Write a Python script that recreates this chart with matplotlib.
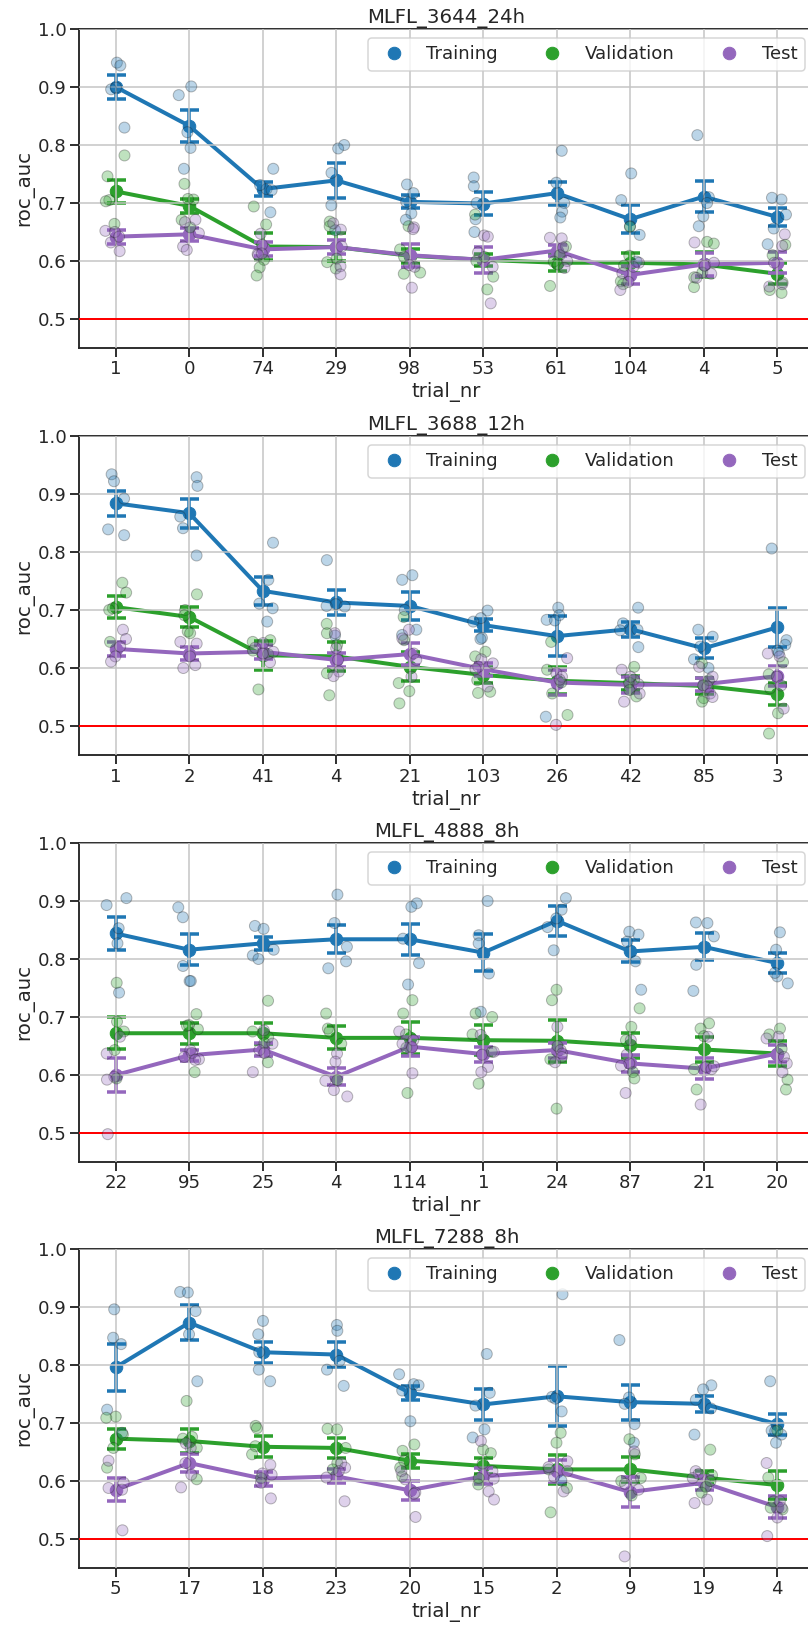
import numpy as np
import pandas as pd
import matplotlib
matplotlib.use("Agg")
import matplotlib.pyplot as plt
import seaborn as sns
from matplotlib.lines import Line2D

sns.set_theme(context="talk", style="ticks", font_scale=1.1)
plt.rcParams["font.family"] = ["DejaVu Sans"]

SETS = ["Training", "Validation", "Test"]
COLORS = ["#1f77b4", "#2ca02c", "#9467bd"]

# ---------------- MLFL_3644_24h ----------------
trials_3644 = ["1", "0", "74", "29", "98", "53", "61", "104", "4", "5"]
train_mean_3644 = [0.900, 0.833, 0.724, 0.739, 0.702, 0.699, 0.717, 0.672, 0.711, 0.676]
train_err_3644 = [0.020, 0.028, 0.012, 0.030, 0.011, 0.020, 0.020, 0.024, 0.027, 0.016]
val_mean_3644 = [0.720, 0.695, 0.625, 0.624, 0.609, 0.602, 0.597, 0.597, 0.594, 0.578]
val_err_3644 = [0.020, 0.012, 0.023, 0.024, 0.012, 0.010, 0.015, 0.017, 0.021, 0.018]
test_mean_3644 = [0.642, 0.646, 0.620, 0.624, 0.610, 0.602, 0.618, 0.576, 0.594, 0.597]
test_err_3644 = [0.012, 0.011, 0.012, 0.012, 0.020, 0.022, 0.010, 0.015, 0.019, 0.018]
train_pts_3644 = [[0.942, 0.937, 0.896, 0.899, 0.830], [0.901, 0.886, 0.795, 0.759, 0.822],
                  [0.759, 0.724, 0.722, 0.684, 0.731], [0.800, 0.794, 0.752, 0.696, 0.653],
                  [0.732, 0.717, 0.702, 0.682, 0.671], [0.744, 0.729, 0.700, 0.672, 0.650],
                  [0.790, 0.735, 0.700, 0.685, 0.675], [0.751, 0.705, 0.660, 0.645, 0.599],
                  [0.817, 0.710, 0.700, 0.677, 0.660], [0.709, 0.706, 0.680, 0.656, 0.629]]
val_pts_3644 = [[0.782, 0.746, 0.705, 0.703, 0.664], [0.733, 0.706, 0.707, 0.671, 0.658],
                [0.694, 0.663, 0.602, 0.589, 0.575], [0.668, 0.660, 0.604, 0.598, 0.587],
                [0.660, 0.620, 0.607, 0.580, 0.578], [0.680, 0.607, 0.600, 0.573, 0.551],
                [0.625, 0.610, 0.599, 0.594, 0.557], [0.659, 0.609, 0.592, 0.560, 0.565],
                [0.633, 0.630, 0.580, 0.572, 0.555], [0.628, 0.610, 0.563, 0.550, 0.545]]
test_pts_3644 = [[0.652, 0.650, 0.642, 0.632, 0.617], [0.671, 0.667, 0.625, 0.619, 0.648],
                 [0.647, 0.628, 0.612, 0.610, 0.613], [0.665, 0.654, 0.625, 0.591, 0.577],
                 [0.658, 0.655, 0.590, 0.593, 0.554], [0.644, 0.642, 0.615, 0.590, 0.527],
                 [0.640, 0.639, 0.623, 0.600, 0.588], [0.597, 0.590, 0.579, 0.564, 0.550],
                 [0.632, 0.597, 0.592, 0.578, 0.571], [0.646, 0.626, 0.597, 0.560, 0.556]]

# ---------------- MLFL_3688_12h ----------------
trials_3688 = ["1", "2", "41", "4", "21", "103", "26", "42", "85", "3"]
train_mean_3688 = [0.884, 0.867, 0.733, 0.713, 0.707, 0.674, 0.655, 0.667, 0.634, 0.670]
train_err_3688 = [0.022, 0.025, 0.024, 0.021, 0.024, 0.010, 0.035, 0.013, 0.017, 0.034]
val_mean_3688 = [0.705, 0.688, 0.622, 0.620, 0.602, 0.588, 0.578, 0.574, 0.569, 0.555]
val_err_3688 = [0.019, 0.017, 0.025, 0.025, 0.025, 0.014, 0.023, 0.012, 0.013, 0.019]
test_mean_3688 = [0.633, 0.625, 0.628, 0.614, 0.624, 0.598, 0.575, 0.571, 0.572, 0.586]
test_err_3688 = [0.012, 0.012, 0.012, 0.012, 0.019, 0.011, 0.022, 0.014, 0.011, 0.017]
train_pts_3688 = [[0.934, 0.922, 0.892, 0.839, 0.829], [0.929, 0.914, 0.861, 0.841, 0.794],
                  [0.816, 0.752, 0.711, 0.703, 0.680], [0.786, 0.710, 0.707, 0.706, 0.656],
                  [0.760, 0.752, 0.700, 0.666, 0.657], [0.699, 0.686, 0.680, 0.652, 0.650],
                  [0.704, 0.691, 0.683, 0.682, 0.516], [0.704, 0.677, 0.666, 0.665, 0.636],
                  [0.666, 0.654, 0.637, 0.615, 0.600], [0.806, 0.648, 0.640, 0.630, 0.626]]
val_pts_3688 = [[0.747, 0.730, 0.703, 0.700, 0.645], [0.727, 0.700, 0.691, 0.663, 0.660],
                [0.648, 0.645, 0.630, 0.624, 0.563], [0.676, 0.660, 0.640, 0.591, 0.553],
                [0.688, 0.648, 0.560, 0.574, 0.539], [0.628, 0.620, 0.579, 0.559, 0.557],
                [0.645, 0.575, 0.597, 0.556, 0.519], [0.602, 0.575, 0.580, 0.562, 0.551],
                [0.608, 0.579, 0.570, 0.548, 0.542], [0.589, 0.610, 0.565, 0.522, 0.487]]
test_pts_3688 = [[0.666, 0.650, 0.637, 0.620, 0.611], [0.645, 0.642, 0.620, 0.605, 0.600],
                 [0.643, 0.635, 0.628, 0.625, 0.610], [0.660, 0.634, 0.614, 0.594, 0.586],
                 [0.666, 0.651, 0.625, 0.614, 0.585], [0.615, 0.608, 0.602, 0.598, 0.568],
                 [0.617, 0.591, 0.585, 0.580, 0.502], [0.597, 0.585, 0.572, 0.556, 0.542],
                 [0.602, 0.585, 0.568, 0.556, 0.550], [0.625, 0.620, 0.585, 0.570, 0.530]]

# ---------------- MLFL_4888_8h ----------------
trials_4888 = ["22", "95", "25", "4", "114", "1", "24", "87", "21", "20"]
train_mean_4888 = [0.844, 0.816, 0.827, 0.834, 0.834, 0.811, 0.866, 0.813, 0.821, 0.793]
train_err_4888 = [0.029, 0.027, 0.011, 0.024, 0.027, 0.032, 0.026, 0.019, 0.023, 0.017]
val_mean_4888 = [0.672, 0.672, 0.672, 0.664, 0.664, 0.660, 0.659, 0.651, 0.644, 0.637]
val_err_4888 = [0.028, 0.018, 0.018, 0.020, 0.028, 0.026, 0.036, 0.022, 0.021, 0.022]
test_mean_4888 = [0.600, 0.634, 0.644, 0.597, 0.649, 0.636, 0.643, 0.620, 0.611, 0.637]
test_err_4888 = [0.030, 0.009, 0.012, 0.015, 0.016, 0.013, 0.013, 0.014, 0.018, 0.015]
train_pts_4888 = [[0.905, 0.893, 0.853, 0.827, 0.742], [0.889, 0.872, 0.788, 0.762, 0.762],
                  [0.857, 0.852, 0.816, 0.806, 0.800], [0.911, 0.862, 0.821, 0.796, 0.784],
                  [0.896, 0.890, 0.835, 0.793, 0.756], [0.900, 0.841, 0.827, 0.775, 0.709],
                  [0.905, 0.885, 0.870, 0.855, 0.815], [0.847, 0.842, 0.830, 0.796, 0.747],
                  [0.863, 0.862, 0.839, 0.790, 0.745], [0.846, 0.816, 0.770, 0.776, 0.758]]
val_pts_4888 = [[0.759, 0.692, 0.675, 0.643, 0.594], [0.705, 0.686, 0.679, 0.685, 0.605],
                [0.728, 0.675, 0.665, 0.655, 0.622], [0.706, 0.680, 0.675, 0.654, 0.591],
                [0.729, 0.706, 0.670, 0.647, 0.569], [0.706, 0.700, 0.670, 0.640, 0.585],
                [0.747, 0.729, 0.650, 0.627, 0.542], [0.715, 0.683, 0.660, 0.605, 0.594],
                [0.689, 0.680, 0.667, 0.610, 0.575], [0.680, 0.670, 0.645, 0.592, 0.575]]
test_pts_4888 = [[0.666, 0.637, 0.597, 0.592, 0.498], [0.643, 0.638, 0.631, 0.627, 0.626],
                 [0.677, 0.654, 0.643, 0.638, 0.605], [0.637, 0.623, 0.590, 0.574, 0.563],
                 [0.675, 0.660, 0.654, 0.648, 0.603], [0.669, 0.640, 0.635, 0.614, 0.605],
                 [0.683, 0.643, 0.637, 0.631, 0.622], [0.660, 0.635, 0.620, 0.616, 0.569],
                 [0.666, 0.614, 0.610, 0.615, 0.549], [0.666, 0.663, 0.631, 0.620, 0.605]]

# ---------------- MLFL_7288_8h ----------------
trials_7288 = ["5", "17", "18", "23", "20", "15", "2", "9", "19", "4"]
train_mean_7288 = [0.796, 0.873, 0.822, 0.818, 0.752, 0.732, 0.746, 0.736, 0.733, 0.698]
train_err_7288 = [0.041, 0.030, 0.018, 0.021, 0.012, 0.027, 0.052, 0.030, 0.014, 0.018]
val_mean_7288 = [0.673, 0.669, 0.659, 0.657, 0.635, 0.626, 0.620, 0.620, 0.606, 0.593]
val_err_7288 = [0.017, 0.020, 0.018, 0.017, 0.012, 0.014, 0.025, 0.021, 0.012, 0.024]
test_mean_7288 = [0.585, 0.631, 0.604, 0.608, 0.584, 0.608, 0.617, 0.581, 0.597, 0.555]
test_err_7288 = [0.020, 0.015, 0.012, 0.012, 0.016, 0.014, 0.019, 0.026, 0.012, 0.019]
train_pts_7288 = [[0.896, 0.847, 0.836, 0.723, 0.683], [0.926, 0.925, 0.893, 0.853, 0.772],
                  [0.876, 0.853, 0.822, 0.792, 0.772], [0.869, 0.859, 0.807, 0.792, 0.764],
                  [0.784, 0.767, 0.765, 0.756, 0.703], [0.819, 0.752, 0.730, 0.689, 0.675],
                  [0.922, 0.745, 0.742, 0.720, 0.601], [0.843, 0.744, 0.733, 0.698, 0.666],
                  [0.765, 0.758, 0.740, 0.725, 0.680], [0.772, 0.687, 0.686, 0.680, 0.666]]
val_pts_7288 = [[0.711, 0.709, 0.680, 0.657, 0.623], [0.738, 0.676, 0.673, 0.657, 0.603],
                [0.695, 0.691, 0.660, 0.646, 0.605], [0.690, 0.689, 0.657, 0.631, 0.620],
                [0.663, 0.652, 0.635, 0.623, 0.608], [0.654, 0.648, 0.630, 0.605, 0.594],
                [0.683, 0.666, 0.620, 0.588, 0.546], [0.672, 0.646, 0.605, 0.600, 0.575],
                [0.654, 0.590, 0.610, 0.600, 0.580], [0.687, 0.606, 0.565, 0.554, 0.551]]
test_pts_7288 = [[0.635, 0.597, 0.588, 0.585, 0.515], [0.657, 0.631, 0.665, 0.611, 0.589],
                 [0.628, 0.611, 0.613, 0.597, 0.570], [0.631, 0.623, 0.617, 0.606, 0.565],
                 [0.617, 0.603, 0.580, 0.578, 0.538], [0.669, 0.617, 0.604, 0.582, 0.568],
                 [0.634, 0.624, 0.617, 0.607, 0.582], [0.651, 0.602, 0.595, 0.585, 0.470],
                 [0.617, 0.612, 0.605, 0.568, 0.562], [0.631, 0.565, 0.554, 0.537, 0.505]]

panels = [
    ("MLFL_3644_24h", trials_3644,
     [train_mean_3644, val_mean_3644, test_mean_3644],
     [train_err_3644, val_err_3644, test_err_3644],
     [train_pts_3644, val_pts_3644, test_pts_3644]),
    ("MLFL_3688_12h", trials_3688,
     [train_mean_3688, val_mean_3688, test_mean_3688],
     [train_err_3688, val_err_3688, test_err_3688],
     [train_pts_3688, val_pts_3688, test_pts_3688]),
    ("MLFL_4888_8h", trials_4888,
     [train_mean_4888, val_mean_4888, test_mean_4888],
     [train_err_4888, val_err_4888, test_err_4888],
     [train_pts_4888, val_pts_4888, test_pts_4888]),
    ("MLFL_7288_8h", trials_7288,
     [train_mean_7288, val_mean_7288, test_mean_7288],
     [train_err_7288, val_err_7288, test_err_7288],
     [train_pts_7288, val_pts_7288, test_pts_7288]),
]

W, H = 808, 1625
fig = plt.figure(figsize=(W / 72, H / 72), dpi=72)
np.random.seed(3)

ax_tops = [29, 436, 843, 1249]
ax_left, ax_w, ax_h = 79, 735, 319

for (title, trials, means, errs, pts), top in zip(panels, ax_tops):
    ax = fig.add_axes([ax_left / W, 1 - (top + ax_h) / H, ax_w / W, ax_h / H])

    rows = []
    for name, groups in zip(SETS, pts):
        for trial, vals in zip(trials, groups):
            for v in vals:
                rows.append((trial, v, name))
    df = pd.DataFrame(rows, columns=["trial_nr", "roc_auc", "set"])

    sns.stripplot(data=df, x="trial_nr", y="roc_auc", hue="set", order=trials,
                  hue_order=SETS, palette=COLORS, jitter=0.15, size=11,
                  alpha=0.3, edgecolor="k", linewidth=1, legend=False,
                  ax=ax, zorder=3)

    x = np.arange(len(trials))
    for name, c, m, e in zip(SETS, COLORS, means, errs):
        ax.plot(x, m, color=c, lw=4, marker="o", ms=12.5, zorder=2)
        ax.errorbar(x, m, yerr=e, fmt="none", ecolor=c, elinewidth=3.5,
                    capsize=9.5, capthick=3.5, zorder=2)

    ax.axhline(0.5, color="red", lw=2, zorder=2.6)
    ax.set_axisbelow(False)
    ax.grid(True, color="#c4c4c4", lw=1.5)
    ax.set_xlim(-0.5, len(trials) - 0.5)
    ax.set_ylim(0.45, 1.0)
    ax.set_yticks([0.5, 0.6, 0.7, 0.8, 0.9, 1.0])
    ax.set_title(title)
    ax.set_xlabel("trial_nr")
    ax.set_ylabel("roc_auc")

    handles = [Line2D([], [], marker="o", ls="", color=c, ms=12.5) for c in COLORS]
    ax.legend(handles, SETS, loc="upper right", ncol=3)

fig.savefig("out.png", dpi=72)
